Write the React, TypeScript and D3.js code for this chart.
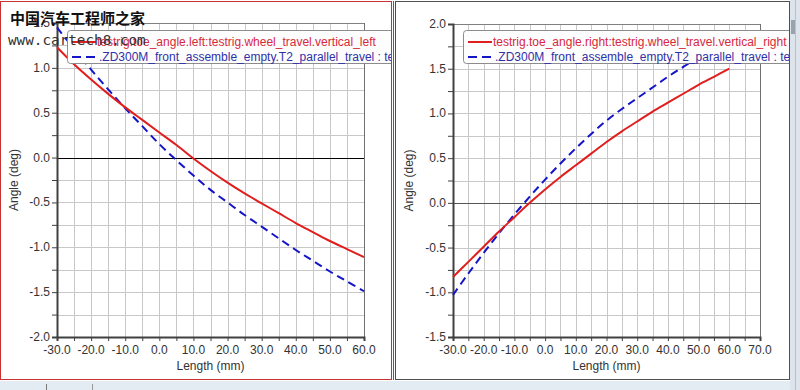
import React, { useEffect, useRef } from 'react'
import * as d3 from 'd3'

// sampled travel positions (mm)
const travelLeft = [-30, -25, -20, -15, -10, -5, 0, 5, 10, 15, 20, 25, 30, 35, 40, 45, 50, 55, 60]
const travelRight = [-30, -25, -20, -15, -10, -5, 0, 5, 10, 15, 20, 25, 30, 35, 40, 45, 50, 55, 60]

// toe angle (deg)
const leftTestrig = [1.23, 1.04, 0.87, 0.71, 0.56, 0.42, 0.28, 0.14, -0.01, -0.15, -0.28, -0.40, -0.51, -0.62, -0.73, -0.83, -0.93, -1.02, -1.11]
const leftZD300M = [1.45, 1.21, 0.98, 0.76, 0.55, 0.35, 0.15, -0.03, -0.20, -0.36, -0.50, -0.64, -0.77, -0.90, -1.03, -1.15, -1.27, -1.38, -1.49]
const rightTestrig = [-0.83, -0.66, -0.49, -0.32, -0.16, 0.00, 0.15, 0.29, 0.42, 0.55, 0.68, 0.80, 0.91, 1.02, 1.12, 1.22, 1.32, 1.41, 1.50]
const rightZD300M = [-1.03, -0.79, -0.56, -0.34, -0.13, 0.07, 0.26, 0.44, 0.61, 0.77, 0.92, 1.05, 1.17, 1.29, 1.41, 1.52, 1.63, 1.74, 1.85]

const leftXTicks = [-30, -20, -10, 0, 10, 20, 30, 40, 50, 60]
const rightXTicks = [-30, -20, -10, 0, 10, 20, 30, 40, 50, 60, 70]
const leftYTicks = [-2.0, -1.5, -1.0, -0.5, 0.0, 0.5, 1.0, 1.5]
const rightYTicks = [-1.5, -1.0, -0.5, 0.0, 0.5, 1.0, 1.5, 2.0]

const legendLeft = [
  'testrig.toe_angle.left:testrig.wheel_travel.vertical_left',
  '.ZD300M_front_assemble_empty.T2_parallel_travel : testrig.toe_angle.left',
]
const legendRight = [
  'testrig.toe_angle.right:testrig.wheel_travel.vertical_right',
  '.ZD300M_front_assemble_empty.T2_parallel_travel : testrig.toe_angle.right',
]

const FONT = 'Arial, "Liberation Sans", sans-serif'

interface PanelOpts {
  id: string
  frame: [number, number, number, number]
  frameColor: string
  plot: [number, number, number, number]
  xDomain: [number, number]
  yDomain: [number, number]
  xTicks: number[]
  yTicks: number[]
  xs: number[]
  solid: number[]
  dashed: number[]
  legend: string[]
  legendX: number
  zeroColor: string
}

function drawPanel(svg: d3.Selection<SVGSVGElement, unknown, null, undefined>, o: PanelOpts) {
  const [fx, fy, fw, fh] = o.frame
  const [px0, py0, px1, py1] = o.plot

  svg.append('defs').append('clipPath').attr('id', `clip-${o.id}`)
    .append('rect').attr('x', fx).attr('y', fy).attr('width', fw).attr('height', fh)

  const g = svg.append('g').attr('clip-path', `url(#clip-${o.id})`)

  g.append('rect').attr('x', fx).attr('y', fy).attr('width', fw).attr('height', fh).attr('fill', '#fff')

  const x = d3.scaleLinear().domain(o.xDomain).range([px0, px1])
  const y = d3.scaleLinear().domain(o.yDomain).range([py1, py0])

  // grid every 5 mm / 0.25 deg
  const xGrid = d3.range(o.xDomain[0], o.xDomain[1] + 0.01, 5)
  const yGrid = d3.range(o.yDomain[0], o.yDomain[1] + 0.001, 0.25)

  g.selectAll('.vg').data(xGrid).enter().append('line')
    .attr('x1', d => Math.round(x(d)) + 0.5).attr('x2', d => Math.round(x(d)) + 0.5)
    .attr('y1', py0).attr('y2', py1)
    .attr('stroke', '#c8c8c8').attr('stroke-width', 1)
  g.selectAll('.hg').data(yGrid).enter().append('line')
    .attr('x1', px0).attr('x2', px1)
    .attr('y1', d => Math.round(y(d)) + 0.5).attr('y2', d => Math.round(y(d)) + 0.5)
    .attr('stroke', '#c8c8c8').attr('stroke-width', 1)

  // plot frame (top / right)
  g.append('line').attr('x1', px0).attr('x2', px1).attr('y1', py0 + 0.5).attr('y2', py0 + 0.5).attr('stroke', '#808080')
  g.append('line').attr('x1', px1 + 0.5).attr('x2', px1 + 0.5).attr('y1', py0).attr('y2', py1).attr('stroke', '#707070')

  // zero line
  g.append('line').attr('x1', px0).attr('x2', px1)
    .attr('y1', Math.round(y(0)) + 0.5).attr('y2', Math.round(y(0)) + 0.5)
    .attr('stroke', o.zeroColor).attr('stroke-width', 1)

  // axes
  const xAxis = d3.axisBottom(x).tickValues(xGrid).tickSize(4).tickFormat(() => '')
  const yAxis = d3.axisLeft(y).tickValues(yGrid).tickSize(5).tickFormat(() => '')
  const ax = g.append('g').attr('transform', `translate(0,${py1})`).call(xAxis)
  const ay = g.append('g').attr('transform', `translate(${px0},0)`).call(yAxis)
  ;[ax, ay].forEach(a => {
    a.select('.domain').attr('stroke', '#404040').attr('stroke-width', 2)
    a.selectAll('.tick line').attr('stroke', '#404040')
  })

  g.selectAll('.xl').data(o.xTicks).enter().append('text')
    .attr('x', d => x(d)).attr('y', py1 + 17)
    .attr('text-anchor', 'middle')
    .style('font-family', FONT).style('font-size', '12px').style('fill', '#333')
    .text(d => d.toFixed(1))
  g.selectAll('.yl').data(o.yTicks).enter().append('text')
    .attr('x', px0 - 7).attr('y', d => y(d) + 4)
    .attr('text-anchor', 'end')
    .style('font-family', FONT).style('font-size', '12px').style('fill', '#333')
    .text(d => d.toFixed(1))

  g.append('text').attr('x', (px0 + px1) / 2).attr('y', py1 + 33)
    .attr('text-anchor', 'middle')
    .style('font-family', FONT).style('font-size', '12px').style('fill', '#333')
    .text('Length (mm)')
  g.append('text')
    .attr('transform', `translate(${fx + 18},${(py0 + py1) / 2}) rotate(-90)`)
    .attr('text-anchor', 'middle')
    .style('font-family', FONT).style('font-size', '12px').style('fill', '#333')
    .text('Angle (deg)')

  // curves
  const line = d3.line<number>()
    .x((_, i) => x(o.xs[i]))
    .y(d => y(d))
    .curve(d3.curveCatmullRom)

  g.append('path').attr('d', line(o.dashed) as string)
    .attr('fill', 'none').attr('stroke', '#1414c8').attr('stroke-width', 2)
    .attr('stroke-dasharray', '8,5')
  g.append('path').attr('d', line(o.solid) as string)
    .attr('fill', 'none').attr('stroke', '#e01e1e').attr('stroke-width', 2)

  // legend
  const lx = o.legendX
  g.append('rect').attr('x', lx + 0.5).attr('y', 30.5).attr('width', 500).attr('height', 33)
    .attr('rx', 3).attr('fill', '#fdfdfd').attr('stroke', '#8c8c8c')
  g.append('line').attr('x1', lx + 5).attr('x2', lx + 29).attr('y1', 42).attr('y2', 42)
    .attr('stroke', '#e01e1e').attr('stroke-width', 2)
  g.append('line').attr('x1', lx + 5).attr('x2', lx + 29).attr('y1', 57).attr('y2', 57)
    .attr('stroke', '#1414c8').attr('stroke-width', 2).attr('stroke-dasharray', '9,5')
  g.append('text').attr('x', lx + 30).attr('y', 46)
    .style('font-family', FONT).style('font-size', '12px').style('fill', '#d8283c')
    .text(o.legend[0])
  g.append('text').attr('x', lx + 32).attr('y', 61)
    .style('font-family', FONT).style('font-size', '12px').style('fill', '#3030a8')
    .text(o.legend[1])

  // panel border
  svg.append('rect').attr('x', fx + 0.5).attr('y', fy + 0.5).attr('width', fw - 1).attr('height', fh - 1)
    .attr('fill', 'none').attr('stroke', o.frameColor)
}

export default function App() {
  const ref = useRef<SVGSVGElement>(null)

  useEffect(() => {
    if (!ref.current) return
    const svg = d3.select(ref.current)
    svg.selectAll('*').remove()

    // window chrome
    svg.append('rect').attr('width', 800).attr('height', 390).attr('fill', '#ffffff')
    svg.append('rect').attr('x', 0).attr('y', 381).attr('width', 800).attr('height', 9).attr('fill', '#e3ebf3')
    svg.append('line').attr('x1', 46.5).attr('x2', 46.5).attr('y1', 384).attr('y2', 390).attr('stroke', '#777')
    svg.append('line').attr('x1', 92.5).attr('x2', 92.5).attr('y1', 384).attr('y2', 390).attr('stroke', '#999')
    svg.append('rect').attr('x', 790).attr('y', 0).attr('width', 10).attr('height', 390).attr('fill', '#dde4ec')
    svg.append('line').attr('x1', 795.5).attr('x2', 795.5).attr('y1', 0).attr('y2', 390).attr('stroke', '#b8c0c8')
    svg.append('rect').attr('x', 791).attr('y', 20).attr('width', 4).attr('height', 14).attr('fill', '#9aa3ad')

    drawPanel(svg, {
      id: 'l', frame: [0, 1, 392, 379], frameColor: '#c83232',
      plot: [57, 23, 364, 337], xDomain: [-30, 60], yDomain: [-2, 1.5],
      xTicks: leftXTicks, yTicks: leftYTicks, xs: travelLeft,
      solid: leftTestrig, dashed: leftZD300M, legend: legendLeft, legendX: 67,
      zeroColor: '#000',
    })
    drawPanel(svg, {
      id: 'r', frame: [395, 1, 395, 379], frameColor: '#505050',
      plot: [453, 24, 760, 337], xDomain: [-30, 70], yDomain: [-1.5, 2],
      xTicks: rightXTicks, yTicks: rightYTicks, xs: travelRight,
      solid: rightTestrig, dashed: rightZD300M, legend: legendRight, legendX: 463,
      zeroColor: '#555',
    })
    // second red edge of the selected panel
    svg.append('line').attr('x1', 393.5).attr('x2', 393.5).attr('y1', 1).attr('y2', 380).attr('stroke', '#c83232')

    // watermark
    svg.append('text').attr('x', 10).attr('y', 24)
      .style('font-family', '"Noto Sans CJK SC"').style('font-weight', 'bold')
      .style('font-size', '15px').style('fill', '#111')
      .text('中国汽车工程师之家')
    svg.append('text').attr('x', 8).attr('y', 45)
      .style('font-family', '"DejaVu Sans Mono", monospace')
      .style('font-size', '14.3px').style('fill', '#333')
      .text('www.cartech8.com')
  }, [])

  return (
    <svg ref={ref} width={800} height={390} style={{ position: 'absolute', left: 0, top: 0 }} />
  )
}
